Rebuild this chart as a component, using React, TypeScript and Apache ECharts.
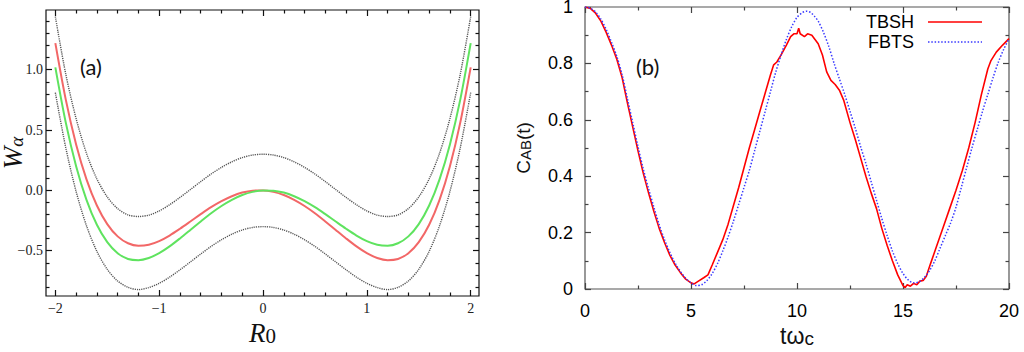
import React, { useEffect, useRef } from "react";
import * as echarts from "echarts";

// ---------- Panel (a): double-well potentials ----------
const R0 = [
  -2, -1.9, -1.8, -1.7, -1.6, -1.5, -1.4, -1.3, -1.2, -1.1, -1, -0.9, -0.8, -0.7, -0.6, -0.5, -0.4, -0.3, -0.2, -0.1,
  0, 0.1, 0.2, 0.3, 0.4, 0.5, 0.6, 0.7, 0.8, 0.9, 1, 1.1, 1.2, 1.3, 1.4, 1.5, 1.6, 1.7, 1.8, 1.9, 2,
];
const wUpper = [
  1.44, 0.965, 0.595, 0.307, 0.095, -0.054, -0.151, -0.203, -0.216, -0.205, -0.17, -0.119, -0.058, 0.007, 0.073,
  0.136, 0.191, 0.237, 0.272, 0.293, 0.3, 0.293, 0.272, 0.237, 0.191, 0.136, 0.073, 0.007, -0.058, -0.119, -0.17,
  -0.205, -0.216, -0.203, -0.151, -0.054, 0.095, 0.307, 0.595, 0.965, 1.44,
];
const wRed = [
  1.22, 0.754, 0.381, 0.092, -0.125, -0.279, -0.381, -0.438, -0.458, -0.45, -0.42, -0.374, -0.318, -0.258, -0.197,
  -0.139, -0.089, -0.048, -0.018, -0.002, 0, -0.012, -0.038, -0.078, -0.129, -0.189, -0.257, -0.328, -0.398, -0.464,
  -0.52, -0.56, -0.578, -0.568, -0.521, -0.429, -0.285, -0.078, 0.201, 0.564, 1.02,
];
const wGreen = [
  1.02, 0.564, 0.201, -0.078, -0.285, -0.429, -0.521, -0.568, -0.578, -0.56, -0.52, -0.464, -0.398, -0.328, -0.257,
  -0.189, -0.129, -0.078, -0.038, -0.012, 0, -0.002, -0.018, -0.048, -0.089, -0.139, -0.197, -0.258, -0.318, -0.374,
  -0.42, -0.45, -0.458, -0.438, -0.381, -0.279, -0.125, 0.092, 0.381, 0.754, 1.22,
];
const wLower = [
  0.81, 0.355, -0.009, -0.293, -0.505, -0.654, -0.751, -0.803, -0.822, -0.805, -0.77, -0.719, -0.658, -0.593, -0.527,
  -0.464, -0.409, -0.363, -0.328, -0.307, -0.3, -0.307, -0.328, -0.363, -0.409, -0.464, -0.527, -0.593, -0.658,
  -0.719, -0.77, -0.805, -0.822, -0.803, -0.751, -0.654, -0.505, -0.293, -0.009, 0.355, 0.81,
];
const aXMajor = [-2, -1, 0, 1, 2];
const aXMinor = [-1.8, -1.6, -1.4, -1.2, -0.8, -0.6, -0.4, -0.2, 0.2, 0.4, 0.6, 0.8, 1.2, 1.4, 1.6, 1.8];
const aYMajor = [-0.5, 0, 0.5, 1];
const aYMinor = [-0.8, -0.7, -0.6, -0.4, -0.3, -0.2, -0.1, 0.1, 0.2, 0.3, 0.4, 0.6, 0.7, 0.8, 0.9, 1.1, 1.2, 1.3, 1.4];

// ---------- Panel (b): correlation function ----------
const legendNames = ["TBSH", "FBTS"];
const tbshT = [
  0, 0.25, 0.5, 0.75, 1, 1.25, 1.5, 1.75, 2, 2.25, 2.5, 2.75, 3, 3.25, 3.5, 3.75, 4, 4.25, 4.5, 4.75, 5, 5.15, 5.35,
  5.6, 5.8, 6, 6.25, 6.5, 6.75, 7, 7.25, 7.5, 7.75, 8, 8.25, 8.5, 8.75, 8.9, 9.05, 9.25, 9.5, 9.7, 9.85, 10, 10.08,
  10.15, 10.35, 10.5, 10.7, 10.85, 11, 11.2, 11.4, 11.6, 11.8, 12, 12.2, 12.5, 12.75, 13, 13.25, 13.5, 13.75, 14,
  14.25, 14.5, 14.75, 15, 15.1, 15.2, 15.35, 15.5, 15.65, 15.8, 15.95, 16.1, 16.3, 16.6, 16.9, 17.2, 17.5, 17.8,
  18.1, 18.4, 18.7, 19, 19.15, 19.4, 19.7, 20,
];
const tbshC = [
  1, 0.995, 0.978, 0.95, 0.91, 0.865, 0.815, 0.75, 0.66, 0.575, 0.49, 0.41, 0.34, 0.275, 0.215, 0.165, 0.12, 0.085,
  0.058, 0.035, 0.022, 0.018, 0.028, 0.04, 0.05, 0.085, 0.13, 0.175, 0.23, 0.295, 0.36, 0.43, 0.5, 0.565, 0.63,
  0.695, 0.76, 0.795, 0.805, 0.83, 0.865, 0.895, 0.905, 0.905, 0.925, 0.905, 0.895, 0.905, 0.9, 0.885, 0.87, 0.83,
  0.77, 0.74, 0.725, 0.705, 0.67, 0.59, 0.53, 0.465, 0.4, 0.34, 0.285, 0.215, 0.155, 0.1, 0.05, 0.012, 0.005, 0.015,
  0.01, 0.02, 0.015, 0.028, 0.03, 0.045, 0.09, 0.155, 0.22, 0.285, 0.35, 0.42, 0.5, 0.59, 0.69, 0.78, 0.81, 0.84,
  0.865, 0.888,
];
const fbtsT = [
  0, 0.25, 0.5, 0.75, 1, 1.25, 1.5, 1.75, 2, 2.25, 2.5, 2.75, 3, 3.25, 3.5, 3.75, 4, 4.25, 4.5, 4.75, 5, 5.25, 5.5,
  5.75, 6, 6.25, 6.5, 6.75, 7, 7.25, 7.5, 7.75, 8, 8.25, 8.5, 8.75, 9, 9.25, 9.5, 9.75, 10, 10.25, 10.45, 10.65,
  10.85, 11, 11.25, 11.5, 11.75, 12, 12.25, 12.5, 12.75, 13, 13.25, 13.5, 13.75, 14, 14.25, 14.5, 14.75, 15, 15.25,
  15.5, 15.75, 16, 16.25, 16.5, 16.75, 17, 17.25, 17.5, 17.75, 18, 18.25, 18.5, 18.75, 19, 19.25, 19.5, 19.75, 20,
];
const fbtsC = [
  1, 0.996, 0.982, 0.957, 0.92, 0.875, 0.825, 0.76, 0.675, 0.59, 0.505, 0.425, 0.355, 0.29, 0.228, 0.175, 0.13,
  0.092, 0.062, 0.038, 0.022, 0.012, 0.015, 0.03, 0.055, 0.09, 0.135, 0.185, 0.24, 0.3, 0.36, 0.42, 0.49, 0.56, 0.63,
  0.7, 0.77, 0.83, 0.885, 0.93, 0.963, 0.98, 0.985, 0.98, 0.965, 0.95, 0.91, 0.86, 0.8, 0.745, 0.69, 0.63, 0.57,
  0.505, 0.445, 0.38, 0.315, 0.25, 0.19, 0.135, 0.09, 0.055, 0.032, 0.022, 0.025, 0.04, 0.065, 0.1, 0.145, 0.19,
  0.235, 0.29, 0.36, 0.43, 0.5, 0.565, 0.63, 0.69, 0.75, 0.805, 0.85, 0.888,
];
const bXMajor = [0, 5, 10, 15, 20];
const bXMinor = [2.5, 7.5, 12.5, 17.5];
const bYMajor = [0, 0.2, 0.4, 0.6, 0.8, 1];
const bYMinor = [0.1, 0.3, 0.5, 0.7, 0.9];

const zip = (xs: number[], ys: number[]) => xs.map((x, i) => [x, ys[i]]);

function axis(
  gridIndex: number,
  position: string,
  min: number,
  max: number,
  ticks: number[],
  len: number,
  color: string,
  label?: any
) {
  return {
    type: "value",
    gridIndex,
    position,
    min,
    max,
    axisLine: { show: false, onZero: false },
    splitLine: { show: false },
    axisTick: { show: true, inside: true, length: len, customValues: ticks, lineStyle: { color, width: 1.2 } },
    axisLabel: label ? { show: true, customValues: ticks, ...label } : { show: false },
  };
}

const SERIF = "'Liberation Serif', 'DejaVu Serif', serif";
const SANS = "'Liberation Sans', Arial, sans-serif";
const minus = (v: number | string) => String(v).replace("-", "\u2212");
const RED = "#ff0000";
const BLUE = "#3a3aff";

export default function App() {
  const ref = useRef<HTMLDivElement>(null);
  useEffect(() => {
    if (!ref.current) return;
    const chart = echarts.init(ref.current, undefined, { renderer: "svg" });
    const aMin = -2.09, aMax = 2.08, aYMin = -0.875, aYMax = 1.495;
    const lblA = { fontFamily: SERIF, fontSize: 14, color: "#222" };
    const lblB = { fontFamily: SANS, fontSize: 18, color: "#000" };
    const cA = "#111", cB = "#444";
    chart.setOption({
      animation: false,
      backgroundColor: "#fff",
      grid: [
        {
          left: 46, top: 10, width: 433, height: 286, show: true, borderColor: cA, borderWidth: 1.2,
          containLabel: false, outerBoundsMode: "none",
        },
        {
          left: 585, top: 7, width: 424, height: 282, show: true, borderColor: "#555", borderWidth: 1.2,
          containLabel: false, outerBoundsMode: "none",
        },
      ],
      xAxis: [
        {
          ...axis(0, "bottom", aMin, aMax, aXMajor, 6, cA, {
            ...lblA,
            margin: 5,
            formatter: (v: number) => minus(v),
          }),
          name: "{r|R}{s|0}",
          nameLocation: "middle",
          nameGap: 18,
          nameTextStyle: {
            rich: {
              r: { fontFamily: SERIF, fontStyle: "italic", fontSize: 27, color: "#111", lineHeight: 30, verticalAlign: "bottom" },
              s: { fontFamily: SERIF, fontSize: 21, color: "#111", lineHeight: 14, verticalAlign: "bottom" },
            },
          },
        },
        axis(0, "bottom", aMin, aMax, aXMinor, 3.5, cA),
        axis(0, "top", aMin, aMax, aXMajor, 6, cA),
        axis(0, "top", aMin, aMax, aXMinor, 3.5, cA),
        {
          ...axis(1, "bottom", 0, 20, bXMajor, 6, cB, { ...lblB, margin: 13 }),
          name: "{t|t\u03c9}{s|c}",
          nameLocation: "middle",
          nameGap: 29,
          nameTextStyle: {
            rich: {
              t: { fontFamily: SANS, fontSize: 23, color: "#111", lineHeight: 26, verticalAlign: "bottom" },
              s: { fontFamily: SANS, fontSize: 19, color: "#111", lineHeight: 12, verticalAlign: "bottom" },
            },
          },
        },
        axis(1, "bottom", 0, 20, bXMinor, 3.5, cB),
        axis(1, "top", 0, 20, bXMajor, 6, cB),
        axis(1, "top", 0, 20, bXMinor, 3.5, cB),
      ],
      yAxis: [
        {
          ...axis(0, "left", aYMin, aYMax, aYMajor, 6, cA, {
            ...lblA,
            margin: 3,
            formatter: (v: number) => minus(Number(v).toFixed(1)),
          }),
          name: "{w|W}{s|\u03b1}",
          nameLocation: "middle",
          nameRotate: 90,
          nameGap: 20,
          nameMoveOverlap: false,
          nameTextStyle: {
            rich: {
              w: { fontFamily: SERIF, fontStyle: "italic", fontSize: 27, color: "#111", lineHeight: 28, verticalAlign: "bottom" },
              s: { fontFamily: SERIF, fontStyle: "italic", fontSize: 19, color: "#111", lineHeight: 10, verticalAlign: "bottom" },
            },
          },
        },
        axis(0, "left", aYMin, aYMax, aYMinor, 3.5, cA),
        axis(0, "right", aYMin, aYMax, aYMajor, 6, cA),
        axis(0, "right", aYMin, aYMax, aYMinor, 3.5, cA),
        {
          ...axis(1, "left", 0, 1, bYMajor, 6, cB, { ...lblB, margin: 12, lineHeight: 12 }),
          name: "{c|C}{s|AB}{c|(t)}",
          nameLocation: "middle",
          nameRotate: 90,
          nameGap: 52,
          nameMoveOverlap: false,
          nameTextStyle: {
            rich: {
              c: { fontFamily: SANS, fontSize: 19, color: "#111", lineHeight: 22, verticalAlign: "bottom" },
              s: { fontFamily: SANS, fontSize: 15, color: "#111", lineHeight: 10, verticalAlign: "bottom" },
            },
          },
        },
        axis(1, "left", 0, 1, bYMinor, 3.5, cB),
        axis(1, "right", 0, 1, bYMajor, 6, cB),
        axis(1, "right", 0, 1, bYMinor, 3.5, cB),
      ],
      graphic: [
        { type: "text", left: 80, top: 55, style: { text: "(a)", fontFamily: "Lato, 'Open Sans', sans-serif", fontSize: 22, fill: "#111" } },
        { type: "text", left: 636, top: 55, style: { text: "(b)", fontFamily: "Lato, 'Open Sans', sans-serif", fontSize: 22, fill: "#111" } },
        {
          type: "text", x: 914, y: 22,
          style: { text: legendNames[0], fontFamily: SANS, fontSize: 18, fill: "#000", align: "right", verticalAlign: "middle" },
        },
        {
          type: "text", x: 914, y: 42,
          style: { text: legendNames[1], fontFamily: SANS, fontSize: 18, fill: "#000", align: "right", verticalAlign: "middle" },
        },
        { type: "line", shape: { x1: 928, y1: 22, x2: 982, y2: 22 }, style: { stroke: RED, lineWidth: 1.6 } },
        { type: "line", shape: { x1: 928, y1: 42, x2: 982, y2: 42 }, style: { stroke: BLUE, lineWidth: 1.5, lineDash: [1.5, 1.8] } },
      ],
      series: [
        {
          type: "line", xAxisIndex: 0, yAxisIndex: 0, data: zip(R0, wUpper), symbol: "none", smooth: 0.3,
          lineStyle: { color: "#555", width: 1.4, type: [1.2, 1] }, silent: true,
        },
        {
          type: "line", xAxisIndex: 0, yAxisIndex: 0, data: zip(R0, wLower), symbol: "none", smooth: 0.3,
          lineStyle: { color: "#555", width: 1.4, type: [1.2, 1] }, silent: true,
        },
        {
          type: "line", xAxisIndex: 0, yAxisIndex: 0, data: zip(R0, wRed), symbol: "none", smooth: 0.3,
          lineStyle: { color: "#f26767", width: 2 }, silent: true,
        },
        {
          type: "line", xAxisIndex: 0, yAxisIndex: 0, data: zip(R0, wGreen), symbol: "none", smooth: 0.3,
          lineStyle: { color: "#5fe35f", width: 2 }, silent: true,
        },
        {
          name: legendNames[0], type: "line", xAxisIndex: 4, yAxisIndex: 4, data: zip(tbshT, tbshC), symbol: "none",
          lineStyle: { color: RED, width: 1.6 },
        },
        {
          name: legendNames[1], type: "line", xAxisIndex: 4, yAxisIndex: 4, data: zip(fbtsT, fbtsC), symbol: "none", smooth: 0.3,
          lineStyle: { color: BLUE, width: 1.5, type: [1.5, 1.8] },
        },
      ],
    });
    return () => chart.dispose();
  }, []);
  return <div ref={ref} style={{ position: "fixed", left: 0, top: 0, width: 1024, height: 352, background: "#fff" }} />;
}
